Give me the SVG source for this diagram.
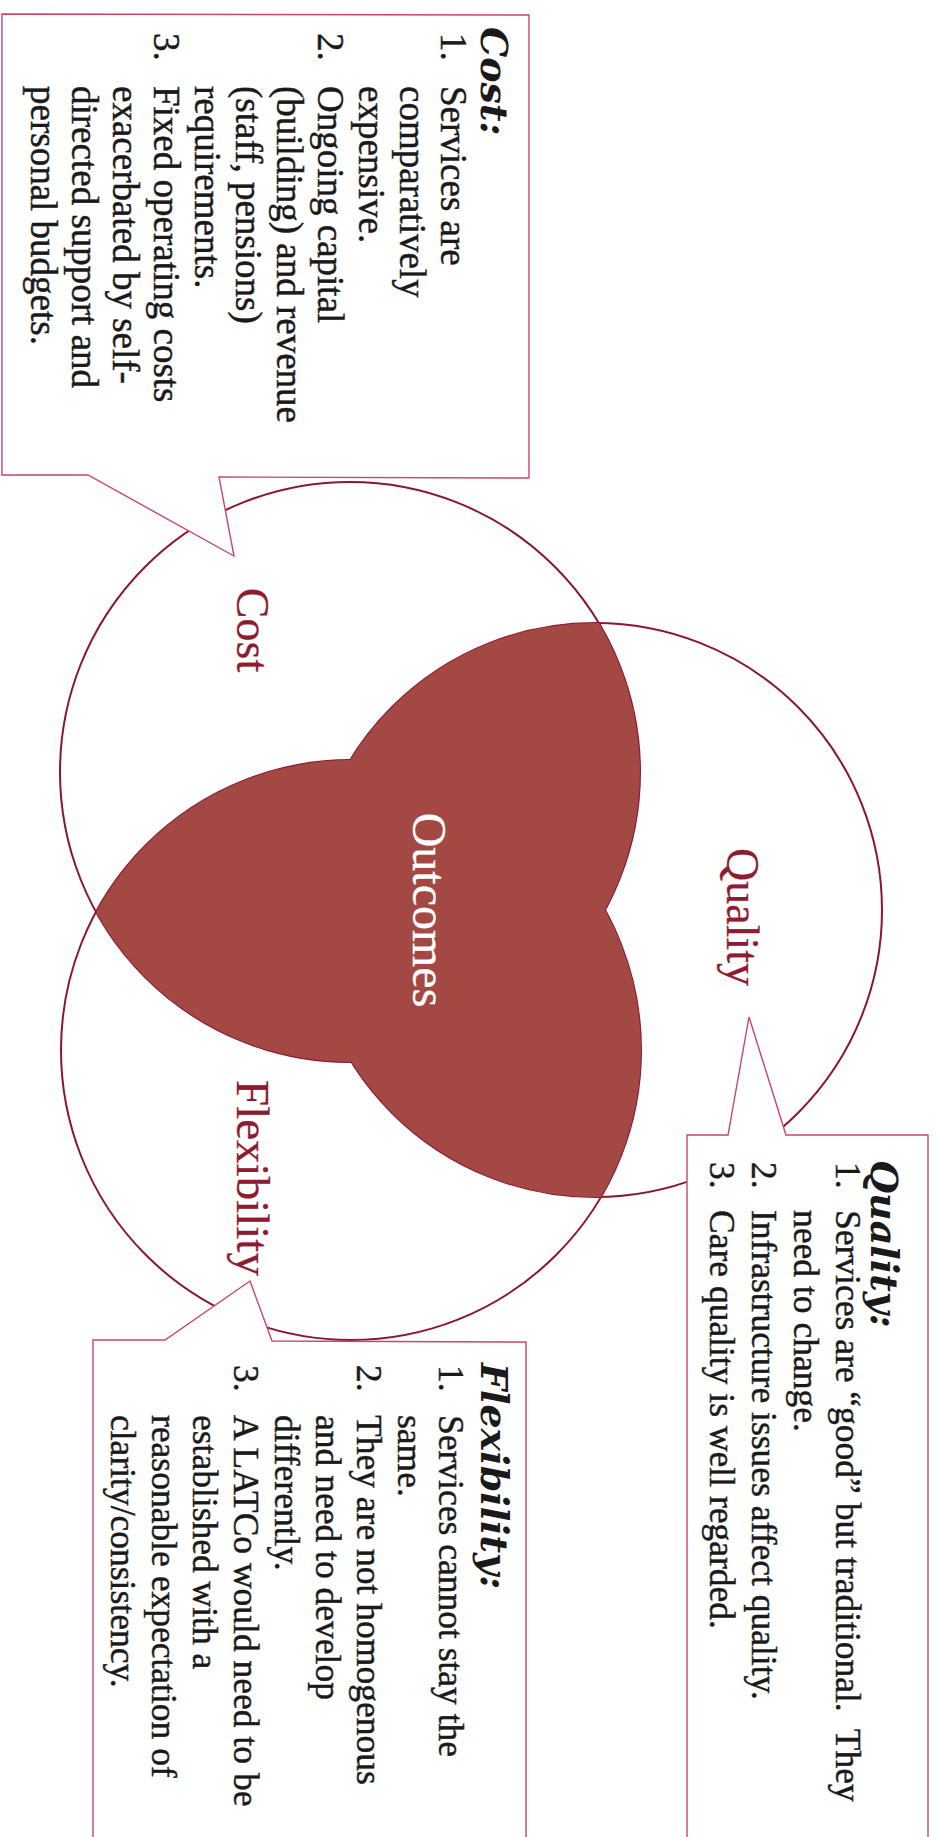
<svg xmlns="http://www.w3.org/2000/svg" width="936" height="1837" viewBox="0 0 936 1837">
<style>
.circ{fill:none;stroke:#8B1630;stroke-width:2}
.box{fill:#fff;stroke:#C8466A;stroke-width:1.4;stroke-linejoin:miter}
.lbl{font-family:"Liberation Serif",serif;fill:#8E1B2E;text-anchor:middle;stroke:#8E1B2E;stroke-width:0.3}
.body{font-family:"Liberation Serif",serif;font-size:35.5px;fill:#1a1a1a;stroke:#1a1a1a;stroke-width:0.45}
.cb{font-size:37px}
.hd{font-family:"DejaVu Serif",serif;font-size:38px;font-weight:bold;font-style:italic;fill:#1a1a1a}
</style>
<rect width="936" height="1837" fill="#fff"/>
<g id="venn">
<circle id="cost-circle" class="circ" cx="350" cy="772" r="290"/>
<circle id="quality-circle" class="circ" cx="595" cy="910" r="287"/>
<circle id="flex-circle" class="circ" cx="351" cy="1050" r="290"/>
<path id="outcomes-fill" fill="#A44844" d="M598.8,623 A287,287 0 0 0 350.2,760 A290,290 0 0 0 96,912 A290,290 0 0 0 351.6,1062 A287,287 0 0 0 601,1197 A290,290 0 0 0 605,910 A290,290 0 0 0 598.8,623 Z"/>
</g>
<g id="connectors">
<path id="cost-callout" class="box" d="M2,14 L529,15 L529,478 L219,477 L234,556 L88,475 L2,475 Z"/>
<path id="quality-callout" class="box" d="M687,1845 L687,1135 L728,1135 L749,1017 L786,1135 L928,1135 L928,1845"/>
<path id="flex-callout" class="box" d="M93,1845 L93,1340 L165,1340 L250,1281 L272,1341 L526,1342 L526,1845"/>
</g>
<g transform="rotate(90)">
<g id="label-cost"><text class="lbl" x="630" y="-237" font-size="46">Cost</text></g>
<g id="label-quality"><text class="lbl" x="917" y="-727" font-size="46">Quality</text></g>
<g id="label-flex"><text class="lbl" x="1178" y="-237" font-size="47">Flexibility</text></g>
<g id="label-outcomes"><text class="lbl" x="910" y="-413" font-size="48" style="fill:#fff;stroke:#fff">Outcomes</text></g>
<g id="cost-text">
<text class="hd" x="27" y="-481">Cost:</text>
<text class="body cb" x="33" y="-441">1.</text><text class="body cb" x="86" y="-441">Services are</text>
<text class="body cb" x="86" y="-400">comparatively</text>
<text class="body cb" x="86" y="-359">expensive.</text>
<text class="body cb" x="33" y="-318">2.</text><text class="body cb" x="86" y="-318">Ongoing capital</text>
<text class="body cb" x="86" y="-277">(building) and revenue</text>
<text class="body cb" x="86" y="-236">(staff, pensions)</text>
<text class="body cb" x="86" y="-195">requirements.</text>
<text class="body cb" x="33" y="-154">3.</text><text class="body cb" x="86" y="-154">Fixed operating costs</text>
<text class="body cb" x="86" y="-113">exacerbated by self-</text>
<text class="body cb" x="86" y="-72">directed support and</text>
<text class="body cb" x="86" y="-31">personal budgets.</text>
</g>
<g id="quality-text">
<text class="hd" x="1160" y="-871">Quality:</text>
<text class="body" x="1162" y="-836">1.</text><text class="body" x="1210" y="-836">Services are “good” but traditional.&#160; They</text>
<text class="body" x="1210" y="-794">need to change.</text>
<text class="body" x="1162" y="-752">2.</text><text class="body" x="1210" y="-752">Infrastructure issues affect quality.</text>
<text class="body" x="1162" y="-710">3.</text><text class="body" x="1210" y="-710">Care quality is well regarded.</text>
</g>
<g id="flex-text">
<text class="hd" x="1363" y="-481">Flexibility:</text>
<text class="body" x="1365" y="-439">1.</text><text class="body" x="1415" y="-439">Services cannot stay the</text>
<text class="body" x="1415" y="-398">same.</text>
<text class="body" x="1365" y="-357">2.</text><text class="body" x="1415" y="-357">They are not homogenous</text>
<text class="body" x="1415" y="-316">and need to develop</text>
<text class="body" x="1415" y="-275">differently.</text>
<text class="body" x="1365" y="-234">3.</text><text class="body" x="1415" y="-234">A LATCo would need to be</text>
<text class="body" x="1415" y="-193">established with a</text>
<text class="body" x="1415" y="-152">reasonable expectation of</text>
<text class="body" x="1415" y="-111">clarity/consistency.</text>
</g>
</g>
</svg>
